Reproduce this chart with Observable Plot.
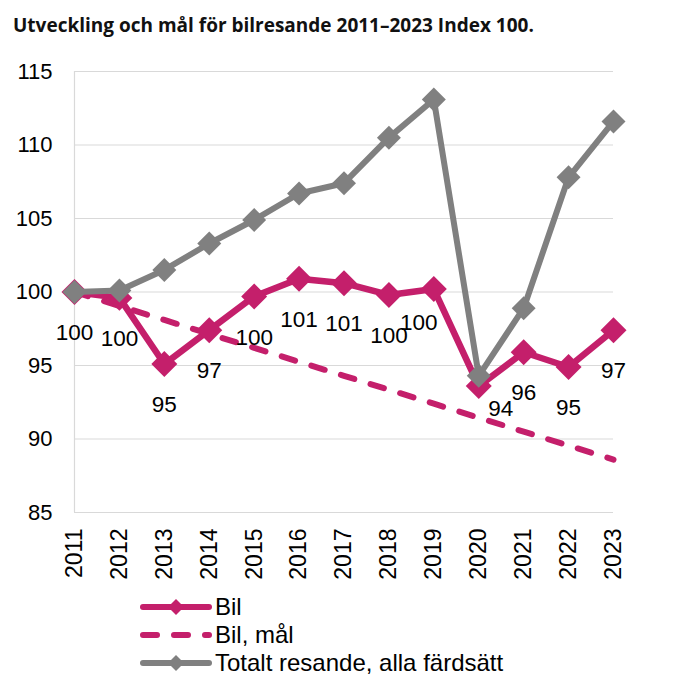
<!DOCTYPE html>
<html lang="sv">
<head>
<meta charset="utf-8">
<script src="https://cdn.jsdelivr.net/npm/d3@7"></script>
<script src="https://cdn.jsdelivr.net/npm/@observablehq/plot@0.6"></script>
<style>
  html, body { margin: 0; padding: 0; background: #fff; }
  svg { display: block; }
</style>
</head>
<body>
<div id="chart"></div>
<script>
// Index (2011 = 100) for car travel, the car-travel target and total travel
const years = [2011, 2012, 2013, 2014, 2015, 2016, 2017, 2018, 2019, 2020, 2021, 2022, 2023];
const bil = [100, 99.6, 95.1, 97.4, 99.7, 100.9, 100.6, 99.8, 100.2, 93.6, 95.9, 94.9, 97.4];
const bilMal = [100, 99.05, 98.1, 97.15, 96.2, 95.25, 94.3, 93.35, 92.4, 91.45, 90.5, 89.55, 88.6];
const totalt = [100, 100.1, 101.5, 103.3, 104.9, 106.7, 107.4, 110.5, 113.1, 94.3, 98.9, 107.8, 111.6];
const yTicks = [85, 90, 95, 100, 105, 110, 115];
const seriesNames = ["Bil", "Bil, mål", "Totalt resande, alla färdsätt"];
const title = "Utveckling och mål för bilresande 2011–2023 Index 100.";

const pink = "#c41f6b";
const gray = "#808080";
const font = "'Liberation Sans', Arial, sans-serif";

const rows = (values) => years.map((year, i) => ({year, value: values[i]}));
const bilRows = rows(bil);
const malRows = rows(bilMal);
const totRows = rows(totalt);

const root = d3.select("#chart");

// Title
const head = root.append("svg").attr("width", 695).attr("height", 48);
head.append("text")
  .attr("x", 13).attr("y", 32)
  .attr("font-family", "'Open Sans', sans-serif")
  .attr("font-weight", 700)
  .attr("font-size", 19)
  .attr("fill", "#111")
  .text(title);

// Value labels: most sit below their marker, two are nudged aside
const labelOpts = {x: "year", y: "value", text: (d) => String(Math.round(d.value)), fontSize: 22.5, fill: "#000"};
const nudged = {2019: [-15, 34], 2020: [22, 23]};

const chart = Plot.plot({
  width: 695,
  height: 540,
  marginTop: 23,
  marginBottom: 76,
  marginLeft: 74,
  marginRight: 82,
  style: {fontFamily: font, fontSize: "22px", color: "#000", background: "#fff"},
  x: {domain: [2011, 2023]},
  y: {domain: [85, 115]},
  marks: [
    Plot.gridY(yTicks, {stroke: "#d9d9d9", strokeOpacity: 1, strokeWidth: 1.2}),
    Plot.ruleX([2011], {stroke: "#d9d9d9", strokeWidth: 1.2}),
    Plot.axisY({ticks: yTicks, tickSize: 0, tickPadding: 22, fontSize: 22, label: null}),
    Plot.axisX({ticks: years, tickSize: 0, tickPadding: 16, tickRotate: -90, fontSize: 23, tickFormat: (d) => String(d), label: null}),
    Plot.line(malRows, {x: "year", y: "value", stroke: pink, strokeWidth: 6, strokeDasharray: "14,17", strokeLinecap: "round"}),
    Plot.line(bilRows, {x: "year", y: "value", stroke: pink, strokeWidth: 6.5, strokeLinejoin: "round"}),
    Plot.dot(bilRows, {x: "year", y: "value", symbol: "diamond2", r: 11.7, fill: pink, stroke: "none"}),
    Plot.line(totRows, {x: "year", y: "value", stroke: gray, strokeWidth: 6, strokeLinejoin: "round"}),
    Plot.dot(totRows, {x: "year", y: "value", symbol: "diamond2", r: 10.8, fill: gray, stroke: "none"}),
    Plot.text(bilRows, {...labelOpts, filter: (d) => !(d.year in nudged), dy: 41}),
    Plot.text(bilRows, {...labelOpts, filter: (d) => d.year === 2019, dx: nudged[2019][0], dy: nudged[2019][1]}),
    Plot.text(bilRows, {...labelOpts, filter: (d) => d.year === 2020, dx: nudged[2020][0], dy: nudged[2020][1]})
  ]
});
root.node().appendChild(chart);

// Legend below the chart: line sample with marker, then series name
const legend = root.append("svg").attr("width", 695).attr("height", 112);
const diamond = (cx, cy, h) => `M${cx},${cy - h}L${cx + h},${cy}L${cx},${cy + h}L${cx - h},${cy}Z`;
const legendItems = [
  {name: seriesNames[0], color: pink, dash: null, marker: true},
  {name: seriesNames[1], color: pink, dash: "14,17", marker: false},
  {name: seriesNames[2], color: gray, dash: null, marker: true}
];
legendItems.forEach((item, i) => {
  const cy = 19 + i * 28;
  const g = legend.append("g");
  g.append("line")
    .attr("x1", 143).attr("x2", 209).attr("y1", cy).attr("y2", cy)
    .attr("stroke", item.color).attr("stroke-width", 6).attr("stroke-linecap", "round")
    .attr("stroke-dasharray", item.dash);
  if (item.marker) {
    g.append("path").attr("d", diamond(176, cy, 8)).attr("fill", item.color);
  }
  g.append("text")
    .attr("x", 215).attr("y", cy).attr("dy", "0.35em")
    .attr("font-family", font).attr("font-size", 24).attr("fill", "#000")
    .text(item.name);
});
</script>
</body>
</html>
